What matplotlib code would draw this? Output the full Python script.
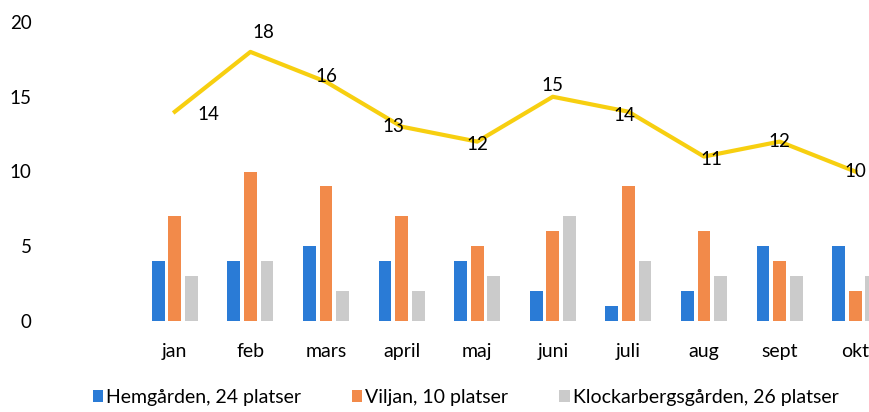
import numpy as np
import matplotlib.pyplot as plt

months = ["jan", "feb", "mars", "april", "maj", "juni", "juli", "aug", "sept", "okt"]
hemgarden = [4, 4, 5, 4, 4, 2, 1, 2, 5, 5]
viljan = [7, 10, 9, 7, 5, 6, 9, 6, 4, 2]
klockarberg = [3, 4, 2, 2, 3, 7, 4, 3, 3, 3]
total = [14, 18, 16, 13, 12, 15, 14, 11, 12, 10]
series_names = ["Hemgården, 24 platser", "Viljan, 10 platser", "Klockarbergsgården, 26 platser"]

plt.rcParams['font.family'] = ['Lato', 'DejaVu Sans']

fig = plt.figure(figsize=(8.7, 4.12), dpi=100)
ax = fig.add_axes([137/870, 91/412, 756/870, 299/412])

x = np.arange(len(months))
w = 0.17
step = 0.22
cols = ["#2a7bd6", "#f28a4a", "#cbcbcb"]
for i, (vals, c, name) in enumerate(zip([hemgarden, viljan, klockarberg], cols, series_names)):
    ax.bar(x + (i - 1) * step, vals, width=w, color=c, label=name, zorder=2)

ax.plot(x, total, color="#f7cf10", lw=3, zorder=3)
# label offsets in points, roughly as placed in the original
offs = [(24, -2), (9, 14), (0, 4), (-6, 0), (0, -2), (0, 8), (-3, -3), (5, -2), (0, 0), (0, 0)]
for xi, v, (dx, dy) in zip(x, total, offs):
    ax.annotate(str(v), (xi, v), xytext=(dx, dy), textcoords="offset points",
                ha="center", va="center", fontsize=13.5, zorder=4)

ax.set_xlim(-0.5, len(months) - 0.5)
ax.set_ylim(0, 20)
ax.set_yticks([0, 5, 10, 15, 20])
ax.set_xticks(x)
ax.set_xticklabels(months)
ax.tick_params(axis="y", length=0, pad=76, labelsize=13.5)
ax.tick_params(axis="x", length=0, pad=16, labelsize=14)
for s in ax.spines.values():
    s.set_visible(False)

fig.legend(loc="center", bbox_to_anchor=(0.535, 0.035), ncol=3, frameon=False,
           fontsize=14, handlelength=0.55, handleheight=0.55, handletextpad=0.15,
           columnspacing=2.6)

fig.savefig("out.png", dpi=100)
